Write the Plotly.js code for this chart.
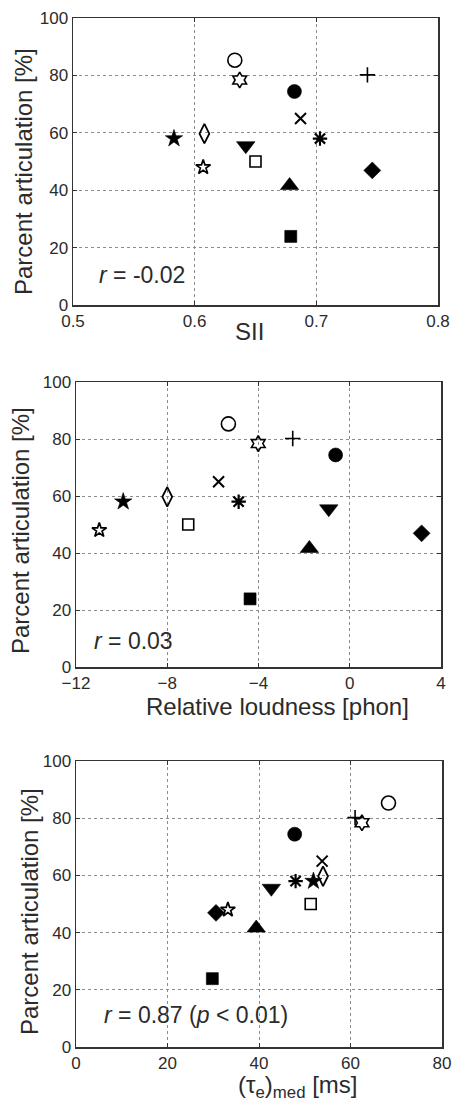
<!DOCTYPE html>
<html>
<head>
<meta charset="utf-8">
<script src="https://cdn.plot.ly/plotly-3.0.1.min.js"></script>
<style>html,body{margin:0;padding:0;background:#fff;}#chart{width:453px;height:1104px;}</style>
</head>
<body>
<div id="chart"></div>
<script>
// ---- data (one entry per subject / marker) ----
const articulation = [85.3, 78.4, 74.4, 80.2, 65.0, 58.0, 59.7, 58.0, 55.5, 50.0, 48.0, 46.9, 41.6, 23.9];
const sii          = [0.633, 0.637, 0.682, 0.742, 0.687, 0.583, 0.608, 0.703, 0.642, 0.650, 0.607, 0.746, 0.678, 0.679];
const loudness     = [-5.32, -4.01, -0.62, -2.50, -5.75, -9.93, -8.00, -4.87, -0.92, -7.08, -10.98, 3.15, -1.77, -4.37];
const tauMed       = [68.3, 62.5, 47.8, 61.0, 53.8, 51.9, 54.0, 48.0, 42.7, 51.3, 33.2, 30.6, 39.4, 29.8];

const siiTicks = [0.5, 0.6, 0.7, 0.8];
const loudTicks = [-12, -8, -4, 0, 4];
const tauTicks = [0, 20, 40, 60, 80];
const yTicks = [0, 20, 40, 60, 80, 100];

const rTexts = ['<i>r</i> = -0.02', '<i>r</i> = 0.03', '<i>r</i> = 0.87 (<i>p</i> &lt; 0.01)'];
const xTitles = ['SII', 'Relative loudness [phon]', '(τ<sub>e</sub>)<sub>med</sub> [ms]'];
const yTitle = 'Parcent articulation [%]';

// ---- styles ----
const symbols = ['circle-open','hexagram-open','circle','cross-thin-open','x-thin-open','star','diamond-tall-open',
                 'asterisk-open','triangle-down','square-open','star-open','diamond','triangle-up','square'];
const sizes   = [14, 12, 14, 11, 11, 13, 14, 12, 16, 11, 11, 13, 16, 12];
const lineW   = [1.6, 1.6, 0.6, 1.6, 2, 0.6, 1.8, 2.2, 0.6, 1.6, 1.7, 0.6, 0.6, 0.6];

const W = 453, H = 1104;
const px = x => x / W, py = y => 1 - y / H;

const FONT = 'Liberation Sans, Arial, Helvetica, sans-serif';
const TXT = '#2b2b2b';

const boxes = [
  {x0: 73, x1: 438, y0: 18, y1: 305},
  {x0: 76, x1: 441, y0: 382, y1: 667},
  {x0: 76, x1: 442, y0: 761, y1: 1047}
];
const xVals = [sii, loudness, tauMed];
const xRanges = [[0.5, 0.8], [-12, 4], [0, 80]];
const xTickSets = [siiTicks, loudTicks, tauTicks];
const xFormats = ['.1f', 'd', 'd'];

const data = [];
const layout = {
  width: W, height: H,
  margin: {l: 0, r: 0, t: 0, b: 0},
  paper_bgcolor: '#fff', plot_bgcolor: '#fff',
  showlegend: false,
  font: {family: FONT, color: TXT},
  annotations: []
};

function axisBase() {
  return {
    showgrid: true, gridcolor: '#8c8c8c', griddash: 'dot', gridwidth: 1,
    showline: true, linecolor: '#333', linewidth: 1.5, mirror: 'ticks',
    ticks: 'inside', ticklen: 4, tickcolor: '#333', tickwidth: 1,
    zeroline: false, fixedrange: true,
    tickfont: {family: FONT, size: 17, color: TXT}
  };
}

boxes.forEach((b, i) => {
  const n = i === 0 ? '' : String(i + 1);
  data.push({
    type: 'scatter', mode: 'markers',
    x: xVals[i], y: articulation,
    xaxis: 'x' + n, yaxis: 'y' + n,
    cliponaxis: false,
    marker: {
      symbol: symbols, size: sizes, color: '#000', opacity: 1,
      line: {color: '#000', width: lineW}
    },
    hoverinfo: 'skip'
  });
  layout['xaxis' + n] = Object.assign(axisBase(), {
    domain: [px(b.x0), px(b.x1)], range: xRanges[i],
    tickmode: 'array', tickvals: xTickSets[i], tickformat: xFormats[i],
    anchor: 'y' + n
  });
  layout['yaxis' + n] = Object.assign(axisBase(), {
    domain: [py(b.y1), py(b.y0)], range: [0, 100],
    tickmode: 'array', tickvals: yTicks,
    anchor: 'x' + n
  });
});

// axis titles and r texts as annotations (pixel-placed)
const xTitlePos = [[249, 331], [277, 706], [297, 1086]];
const yTitlePos = [[23, 172], [20, 531], [29, 912]];
const rPos = [[97, 275], [92, 641], [102, 1015]];

xTitles.forEach((t, i) => {
  layout.annotations.push({
    text: t, xref: 'paper', yref: 'paper', x: px(xTitlePos[i][0]), y: py(xTitlePos[i][1]),
    xanchor: 'center', yanchor: 'middle', showarrow: false,
    font: {family: FONT, size: 24, color: TXT}
  });
  layout.annotations.push({
    text: yTitle, xref: 'paper', yref: 'paper', x: px(yTitlePos[i][0]), y: py(yTitlePos[i][1]),
    xanchor: 'center', yanchor: 'middle', showarrow: false, textangle: -90,
    font: {family: FONT, size: 24, color: TXT}
  });
  layout.annotations.push({
    text: rTexts[i], xref: 'paper', yref: 'paper', x: px(rPos[i][0]), y: py(rPos[i][1]),
    xanchor: 'left', yanchor: 'middle', showarrow: false,
    font: {family: FONT, size: 23, color: TXT}
  });
});

Plotly.newPlot('chart', data, layout, {staticPlot: true, displayModeBar: false});
</script>
</body>
</html>
